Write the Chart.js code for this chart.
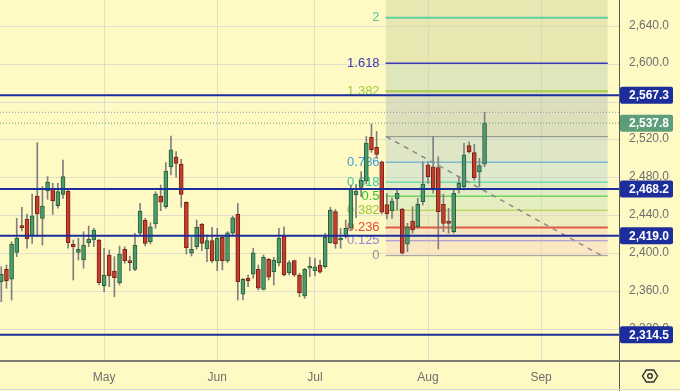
<!DOCTYPE html>
<html><head><meta charset="utf-8">
<script src="https://cdn.jsdelivr.net/npm/chart.js@4/dist/chart.umd.min.js"></script>
<style>html,body{margin:0;padding:0;background:#fff9c4;overflow:hidden}canvas{display:block}</style>
</head><body>
<canvas id="c" width="680" height="391"></canvas>
<script>
// ---- data (daily bars, Apr 3 .. Aug 16) ----
const opens  = [2370.5,2383.6,2373.1,2401.5,2429.3,2436.7,2419.0,2460.9,2437.4,2466.2,2469.0,2450.7,2462.7,2466.2,2410.3,2401.5,2393.4,2411.7,2414.5,2414.5,
                2366.3,2398.7,2381.8,2369.5,2404.7,2392.0,2383.6,2421.6,2435.6,2412.7,2431.4,2460.9,2449.6,2491.8,2502.1,2494.7,2454.3,2400.5,2407.4,2431.1,2405.0,2413.8,
                2392.4,2417.4,2392.4,2421.6,2441.6,2357.5,2374.4,2378.6,2383.6,2362.5,2394.2,2381.1,2390.6,2419.8,2380.1,2392.7,2377.6,2355.4,2384.7,
                2382.1,2388.1,2386.3,2411.7,2444.4,2414.5,2418.0,2426.9,2462.0,2470.1,2476.7,2522.8,2512.3,2497.1,2452.0,2445.1,2457.8,2447.2,2410.0,2434.6,2428.5,2454.9,
                2493.6,2491.8,2490.8,2452.2,2433.2,2423.3,2467.3,2470.7,2514.0,2506.6,2486.6,2494.4];
const highs  = [2386.3,2388.1,2412.7,2437.4,2449.0,2441.9,2463.0,2517.2,2470.7,2481.3,2474.3,2474.3,2498.9,2469.0,2414.5,2416.3,2423.3,2429.3,2426.9,2415.2,
                2405.8,2404.0,2396.9,2408.2,2407.4,2397.6,2421.6,2453.2,2437.4,2432.8,2465.5,2472.5,2496.1,2524.2,2507.7,2499.6,2454.9,2417.4,2435.6,2432.1,2419.8,2427.9,
                2426.9,2418.0,2423.3,2439.8,2453.2,2374.1,2377.6,2405.8,2388.1,2398.7,2395.2,2396.3,2426.9,2428.5,2392.7,2393.4,2379.4,2384.7,2396.3,
                2395.2,2393.4,2421.6,2449.0,2446.9,2426.9,2435.6,2472.5,2473.0,2486.6,2523.7,2536.9,2529.0,2497.8,2463.6,2459.1,2467.3,2448.0,2432.1,2449.6,2458.5,2497.1,
                2497.1,2523.5,2502.4,2462.7,2448.0,2467.3,2481.3,2516.5,2518.2,2515.5,2500.7,2549.2];
const lows   = [2349.4,2363.6,2351.2,2396.9,2424.0,2405.8,2411.0,2418.0,2409.2,2457.4,2441.6,2448.0,2458.5,2405.8,2372.3,2393.4,2384.7,2407.4,2407.4,2367.0,
                2360.0,2365.2,2354.7,2367.0,2389.9,2382.1,2382.1,2419.8,2408.2,2410.3,2426.9,2445.4,2448.0,2483.1,2480.7,2449.0,2399.7,2397.6,2404.7,2403.2,2391.6,2390.6,
                2382.1,2382.9,2390.6,2419.8,2351.2,2351.2,2365.2,2374.1,2361.8,2361.8,2372.3,2367.0,2387.1,2376.5,2377.6,2375.8,2354.7,2353.0,2375.8,
                2376.5,2379.4,2384.7,2411.0,2405.8,2405.8,2416.3,2425.1,2438.0,2460.2,2473.6,2506.8,2501.0,2441.9,2436.7,2437.4,2446.2,2399.4,2402.2,2421.6,2426.9,2451.4,
                2474.3,2463.8,2405.0,2423.3,2421.6,2421.6,2463.8,2467.3,2506.0,2477.8,2470.7,2491.8];
const closes = [2378.3,2371.6,2410.3,2416.3,2427.5,2415.6,2440.1,2441.9,2450.4,2475.7,2455.7,2465.5,2481.3,2411.7,2407.4,2404.7,2409.2,2415.2,2425.1,2369.5,
                2377.6,2376.5,2374.7,2399.7,2392.7,2390.6,2408.9,2445.1,2411.0,2428.5,2463.0,2454.3,2487.3,2509.5,2495.4,2462.7,2406.4,2404.7,2427.9,2411.0,2413.8,2392.4,
                2416.3,2392.7,2422.2,2438.0,2370.5,2373.1,2371.6,2401.1,2363.6,2396.3,2375.2,2393.4,2416.3,2377.6,2390.6,2377.6,2358.9,2383.6,2386.3,
                2386.3,2380.5,2417.4,2446.2,2410.3,2416.3,2426.9,2469.0,2466.0,2477.8,2516.8,2509.5,2504.9,2444.0,2441.9,2455.7,2463.8,2400.5,2428.5,2425.1,2452.2,2473.6,
                2481.3,2469.0,2444.4,2432.1,2432.1,2463.8,2474.3,2504.2,2507.7,2480.2,2492.9,2537.8];

const monthStarts = [21, 43, 62, 84, 106];          // bar number of first session of each month
const monthLabels = ['May', 'Jun', 'Jul', 'Aug', 'Sep'];
const yTicks = [2320, 2360, 2400, 2440, 2480, 2520, 2560, 2600, 2640];
const hiddenYLabels = [2560];
const levelLines = [2567.3, 2468.2, 2419.0, 2314.5];
const lastPrice = 2537.8;
const lastHigh = 2549.2;

const fibRatios = [2, 1.618, 1.382, 1, 0.786, 0.618, 0.5, 0.382, 0.236, 0.125, 0];
const fibLabels = ['2', '1.618', '1.382', '', '0.786', '0.618', '0.5', '0.382', '0.236', '0.125', '0'];
const fibLow = 2398.0, fibHigh = 2523.5;
const fibFromBar = 75.75, fibToBar = 118.97;
const trendFromBar = 75.9, trendToBar = 117.8;

// ---- styles ----
const BG = '#fff9c4';
const UP = '#4f9a6c', UP_BORDER = '#24613d';
const DOWN = '#c23e2e', DOWN_BORDER = '#7a2216';
const WICK = '#808080';
const NAVY = '#1b2e9c';
const fibLineColors = ['#5fd0a0', '#3a3ab4', '#a6d04c', '#8a8a8a', '#4aa2d6', '#35d1a2', '#33c933', '#a3cc44', '#e05a48', '#9a88dc', '#9a9a9a'];
const fibTextColors = ['#4fcb95', '#3a3ab4', '#9ecb3c', '#8a8a8a', '#3f9fd8', '#2fcd9c', '#2ec52e', '#9cc93c', '#e04a3c', '#9a82dc', '#8f8f8f'];
const fibLineWidths = [2, 1.5, 2, 1, 1, 1, 1, 1, 2, 1, 1];
const fibBandColors = ['rgba(209,213,160,0.5)', 'rgba(209,213,160,0.5)', 'rgba(193,211,180,0.5)', 'rgba(187,195,180,0.5)',
  'rgba(189,211,200,0.5)', 'rgba(189,215,208,0.5)', 'rgba(195,223,192,0.5)', 'rgba(203,227,184,0.5)',
  'rgba(221,223,184,0.5)', 'rgba(241,209,184,0.5)', 'rgba(247,215,192,0.5)'];
const GRID = 'rgba(190,198,212,0.5)';
const TEXT = '#6f6f6f';
const FONT = "'Liberation Sans', Arial, sans-serif";

const X_MIN = 0.747, X_MAX = 121.15;
const Y_MIN = 2287.93, Y_MAX = 2667.68;

// ---- datasets ----
const fibValue = r => fibLow + r * (fibHigh - fibLow);
const fibDatasets = fibRatios.map((r, i) => ({
  type: 'line',
  data: [{x: fibFromBar, y: fibValue(r)}, {x: fibToBar, y: fibValue(r)}],
  borderColor: fibLineColors[i],
  borderWidth: fibLineWidths[i],
  backgroundColor: fibBandColors[i],
  fill: i === 0 ? 'end' : '-1',
  pointRadius: 0,
  order: 10
}));

const isUp = opens.map((o, i) => closes[i] >= o);
const wickDs = {
  type: 'bar',
  data: lows.map((l, i) => ({x: i + 1, y: [l, highs[i]]})),
  backgroundColor: WICK,
  barThickness: 1,
  grouped: false,
  order: 5
};
const bodyDs = {
  type: 'bar',
  data: opens.map((o, i) => ({x: i + 1, y: [o, closes[i]]})),
  backgroundColor: isUp.map(u => u ? UP : DOWN),
  borderColor: isUp.map(u => u ? UP_BORDER : DOWN_BORDER),
  borderWidth: 1,
  borderSkipped: false,
  barThickness: 4,
  minBarLength: 2,
  grouped: false,
  order: 4
};
const hLine = (v, color, width, dash) => ({
  type: 'line',
  data: [{x: X_MIN, y: v}, {x: X_MAX, y: v}],
  borderColor: color, borderWidth: width, borderDash: dash || [],
  pointRadius: 0, fill: false, order: 1
});
const levelDs = levelLines.map(v => hLine(v, NAVY, 2));
const dotDs = [hLine(lastHigh, '#8c98a6', 1, [1, 2]), hLine(lastPrice, '#5e9c78', 1, [1, 2])];
const trendDs = {
  type: 'line',
  data: [{x: trendFromBar, y: fibHigh}, {x: trendToBar, y: fibLow}],
  borderColor: '#8a8a8a', borderWidth: 1.5, borderDash: [5, 5],
  pointRadius: 0, fill: false, order: 2
};

// ---- plugins ----
const bgPlugin = {
  id: 'bg',
  beforeDraw(chart) {
    const c = chart.ctx;
    c.save(); c.fillStyle = BG; c.fillRect(0, 0, chart.width, chart.height); c.restore();
  }
};
const fibLabelPlugin = {
  id: 'fibLabels',
  beforeDatasetsDraw(chart) {
    const c = chart.ctx, xs = chart.scales.x, ys = chart.scales.y;
    c.save();
    c.font = '13px ' + FONT;
    c.textAlign = 'right';
    c.textBaseline = 'middle';
    const x = xs.getPixelForValue(fibFromBar) - 6;
    fibRatios.forEach((r, i) => {
      if (!fibLabels[i]) return;
      c.fillStyle = fibTextColors[i];
      c.fillText(fibLabels[i], x, ys.getPixelForValue(fibValue(r)));
    });
    c.restore();
  }
};
const fmt = v => v.toLocaleString('en-US', {minimumFractionDigits: 1, maximumFractionDigits: 1});
const overlayPlugin = {
  id: 'overlay',
  afterDraw(chart) {
    const c = chart.ctx, a = chart.chartArea, ys = chart.scales.y;
    c.save();
    // axis separators
    c.strokeStyle = '#5a5a5a'; c.lineWidth = 1;
    c.beginPath(); c.moveTo(Math.round(a.right) + 0.5, 0); c.lineTo(Math.round(a.right) + 0.5, chart.height); c.stroke();
    c.strokeStyle = '#7a7a72'; c.lineWidth = 2;
    c.beginPath(); c.moveTo(0, a.bottom + 1); c.lineTo(chart.width, a.bottom + 1); c.stroke();
    c.strokeStyle = '#d6dbe3'; c.lineWidth = 1;
    c.beginPath(); c.moveTo(0, chart.height - 1.5); c.lineTo(chart.width, chart.height - 1.5); c.stroke();
    // price boxes
    const box = (v, color) => {
      const y = ys.getPixelForValue(v);
      const x0 = a.right + 1, w = 53, h = 17;
      c.fillStyle = color;
      c.beginPath();
      if (c.roundRect) c.roundRect(x0, y - h / 2, w, h, 2); else c.rect(x0, y - h / 2, w, h);
      c.fill();
      c.fillStyle = '#ffffff';
      c.font = 'bold 12px ' + FONT;
      c.textAlign = 'left'; c.textBaseline = 'middle';
      c.fillText(fmt(v), a.right + 10, y + 0.5);
    };
    levelLines.forEach(v => box(v, NAVY));
    box(lastPrice, '#5d9d79');
    // settings icon
    const cx = 650, cy = 376, r = 7.5;
    c.strokeStyle = '#2f2f2f'; c.lineWidth = 1.4;
    c.beginPath();
    for (let k = 0; k < 6; k++) {
      const ang = Math.PI / 3 * k;
      const px = cx + r * Math.cos(ang), py = cy + r * 0.92 * Math.sin(ang);
      k ? c.lineTo(px, py) : c.moveTo(px, py);
    }
    c.closePath(); c.stroke();
    c.beginPath(); c.arc(cx, cy, 2.3, 0, Math.PI * 2); c.stroke();
    c.restore();
  }
};

new Chart(document.getElementById('c'), {
  type: 'bar',
  data: {datasets: [...fibDatasets, wickDs, bodyDs, trendDs, ...dotDs, ...levelDs]},
  options: {
    responsive: false,
    animation: false,
    events: [],
    devicePixelRatio: 1,
    layout: {padding: 0},
    plugins: {legend: {display: false}, tooltip: {enabled: false}, filler: {propagate: false}},
    scales: {
      x: {
        type: 'linear', min: X_MIN, max: X_MAX, offset: false,
        grid: {color: GRID, offset: false, drawTicks: false},
        border: {display: false},
        afterBuildTicks: s => { s.ticks = monthStarts.map(v => ({value: v})); },
        afterFit: s => { s.height = 31; s.paddingLeft = 0; s.paddingRight = 0; },
        ticks: {
          autoSkip: false, maxRotation: 0, padding: 10, color: TEXT,
          font: {family: FONT, size: 12},
          callback: (v, i) => monthLabels[i]
        }
      },
      y: {
        type: 'linear', position: 'right', min: Y_MIN, max: Y_MAX,
        grid: {color: GRID, drawTicks: false},
        border: {display: false},
        afterBuildTicks: s => { s.ticks = yTicks.map(v => ({value: v})); },
        afterFit: s => { s.width = 61; s.paddingTop = 0; s.paddingBottom = 0; },
        ticks: {
          padding: 10, color: TEXT, labelOffset: -1,
          font: {family: FONT, size: 12},
          callback: v => hiddenYLabels.includes(v) ? '' : fmt(v)
        }
      }
    }
  },
  plugins: [bgPlugin, fibLabelPlugin, overlayPlugin]
});
</script>
</body></html>
